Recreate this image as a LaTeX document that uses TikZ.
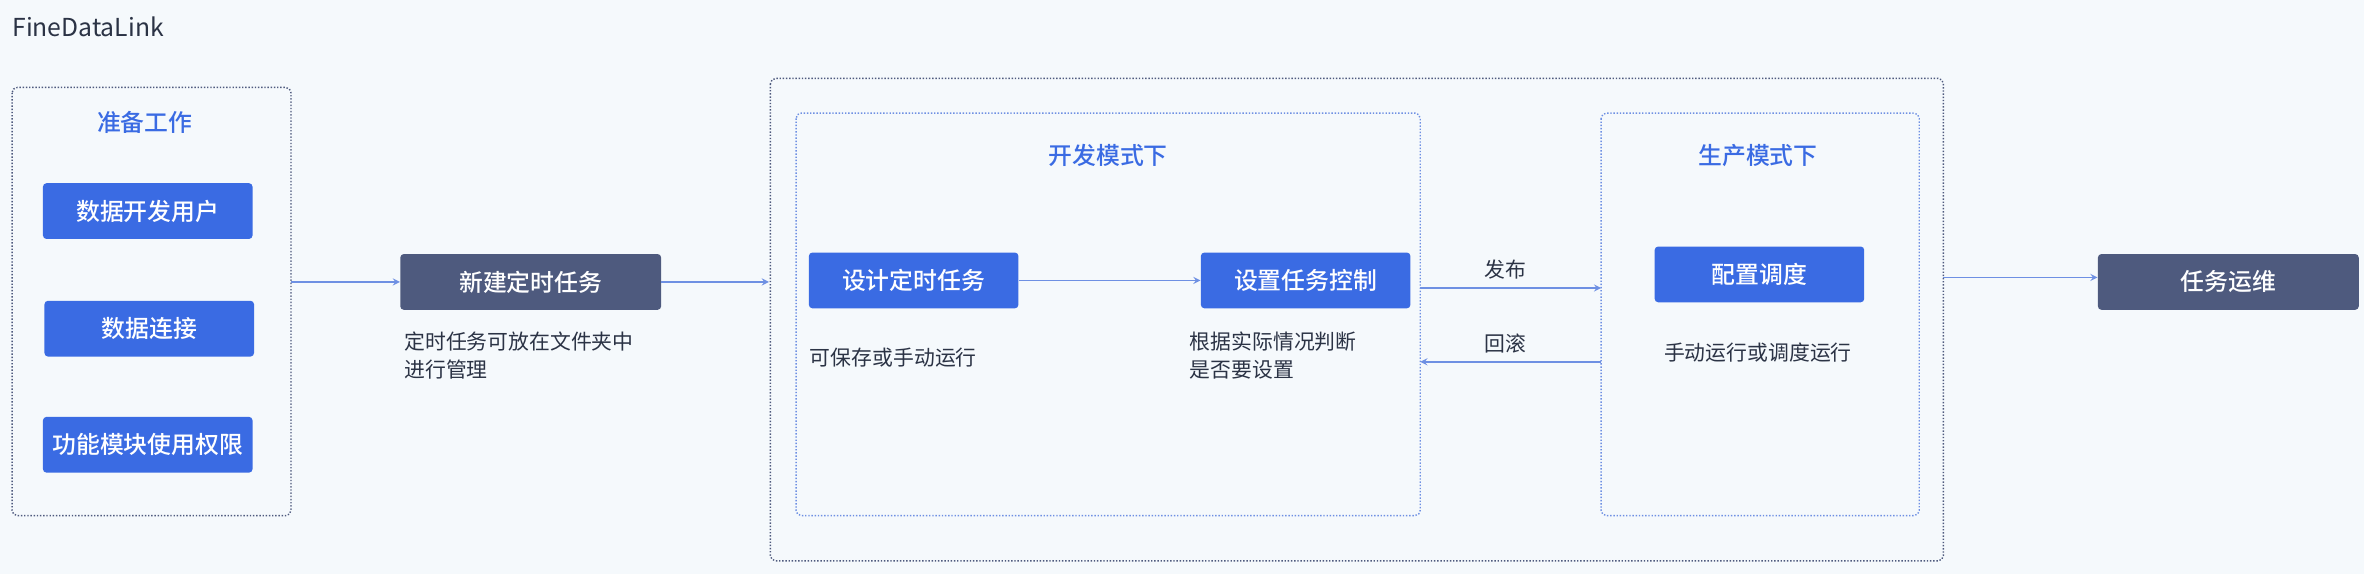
\documentclass[tikz,border=0pt]{standalone}
\usepackage{fontspec}
\setmainfont{Noto Sans CJK SC}
\newfontfamily\fdmedium{Noto Sans CJK SC Medium}
\usetikzlibrary{positioning}
\definecolor{fdblue}{HTML}{3A6BE3}
\definecolor{fdslate}{HTML}{4E5A7E}
\definecolor{fdbg}{HTML}{F5F9FC}
\definecolor{fdline}{HTML}{6E90E3}
\definecolor{fdtext}{HTML}{2B3345}
\tikzset{
  task/.style={rectangle, rounded corners=2pt, fill=fdblue, text=white, font=\fontsize{13.5}{16}\selectfont\fdmedium, minimum width=139*0.03cm, minimum height=37*0.03cm, inner sep=0pt},
  main/.style={task, fill=fdslate, minimum width=173*0.03cm},
  note/.style={anchor=west, text=fdtext, font=\fontsize{11.8}{16}\selectfont, align=left, inner sep=0pt},
  title/.style={text=fdblue, font=\fontsize{13.5}{16}\selectfont\fdmedium},
  outerbox/.style={draw=fdslate, densely dotted, rounded corners=3pt, thick},
  innerbox/.style={draw=fdline, densely dotted, rounded corners=3pt, thick},
  flow/.style={draw=fdline, thick, ->, >=stealth}
}
\begin{document}
\begin{tikzpicture}[x=0.03cm,y=-0.03cm]
  \fill[fdbg] (0,0) rectangle (1568,381);
  \useasboundingbox (0,0) rectangle (1568,381);
  \node[anchor=west, text=fdtext, font=\fontsize{14}{16}\selectfont, inner sep=0pt] (brand) at (8,18) {FineDataLink};
  %Preparation
  \draw[outerbox] (8,58) rectangle (193,342);
  \coordinate (prepE) at (193,187);
  \node[title] (prep) at (96,81) {准备工作};
  \node[task] (user) at (98,140) {数据开发用户};
  \node[task] (conn) at (99,218) {数据连接};
  \node[task] (perm) at (98,295) {功能模块使用权限};
  %New task
  \node[main] (newtask) at (352,187) {新建定时任务};
  \node[note] (newnote) at (268,236) {定时任务可放在文件夹中\\进行管理};
  \draw[flow] (prepE) -- (newtask.west);
  %Modes
  \draw[outerbox] (511,52) rectangle (1289,372);
  \coordinate (modeW) at (510,187);
  \coordinate (modeE) at (1289,184);
  \draw[flow] (newtask.east) -- (modeW);
  \draw[innerbox] (528,75) rectangle (942,342);
  \node[title] (dev) at (735,103) {开发模式下};
  \node[task] (design) at (606,186) {设计定时任务};
  \node[note] (designnote) at (537,237) {可保存或手动运行};
  \node[task] (control) at (866,186) {设置任务控制};
  \node[note] (controlnote) at (789,236) {根据实际情况判断\\是否要设置};
  \draw[flow] (design.east) -- (control.west |- design.east);
  \draw[innerbox] (1062,75) rectangle (1273,342);
  \node[title] (prod) at (1166,103) {生产模式下};
  \node[task] (sched) at (1167,182) {配置调度};
  \node[note, anchor=center] (schednote) at (1166,234) {手动运行或调度运行};
  \coordinate (devE1) at (942,191);
  \coordinate (prodW1) at (1062,191);
  \coordinate (devE2) at (942,240);
  \coordinate (prodW2) at (1062,240);
  \draw[flow] (devE1) -- (prodW1) node[note, anchor=south, pos=0.47, yshift=0.15cm] {发布};
  \draw[flow] (prodW2) -- (devE2) node[note, anchor=south, pos=0.53, yshift=0.15cm] {回滚};
  %Ops
  \node[main] (ops) at (1478,187) {任务运维};
  \draw[flow] (modeE) -- (ops.west |- modeE);
\end{tikzpicture}
\end{document}
